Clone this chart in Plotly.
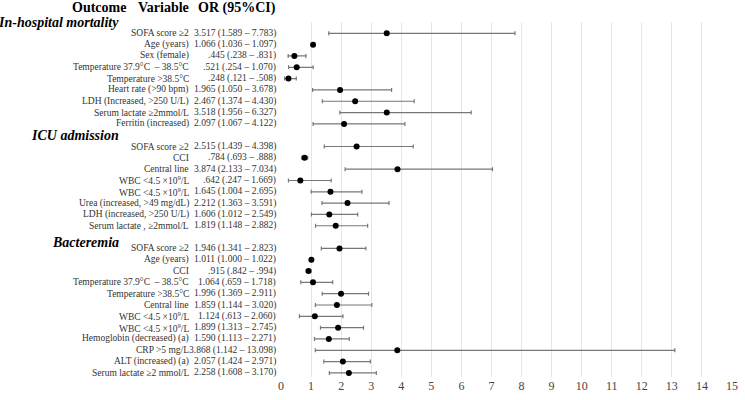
import plotly.graph_objects as go

# outcome groups
groups = ["In-hospital mortality", "ICU admission", "Bacteremia"]

mort_vars = ["SOFA score ≥2", "Age (years)", "Sex (female)",
             "Temperature 37.9°C  – 38.5°C", "Temperature &gt;38.5°C",
             "Heart rate (&gt;90 bpm)", "LDH (Increased, &gt;250 U/L)",
             "Serum lactate ≥2mmol/L", "Ferritin (increased)"]
mort_or = [3.517, 1.066, .445, .521, .248, 1.965, 2.467, 3.518, 2.097]
mort_lo = [1.589, 1.036, .238, .254, .121, 1.050, 1.374, 1.956, 1.067]
mort_hi = [7.783, 1.097, .831, 1.070, .508, 3.678, 4.430, 6.327, 4.122]

icu_vars = ["SOFA score ≥2", "CCI", "Central line",
            "WBC &lt;4.5 ×10<sup>9</sup>/L", "WBC &lt;4.5 ×10<sup>9</sup>/L",
            "Urea (increased, &gt;49 mg/dL)", "LDH (increased, &gt;250 U/L)",
            "Serum lactate , ≥2mmol/L"]
icu_or = [2.515, .784, 3.874, .642, 1.645, 2.212, 1.606, 1.819]
icu_lo = [1.439, .693, 2.133, .247, 1.004, 1.363, 1.012, 1.148]
icu_hi = [4.398, .888, 7.034, 1.669, 2.695, 3.591, 2.549, 2.882]

bact_vars = ["SOFA score ≥2", "Age (years)", "CCI",
             "Temperature 37.9°C  – 38.5°C", "Temperature &gt;38.5°C",
             "Central line", "WBC &lt;4.5 ×10<sup>9</sup>/L",
             "WBC &lt;4.5 ×10<sup>9</sup>/L", "Hemoglobin (decreased) (a)",
             "CRP &gt;5 mg/L", "ALT (increased) (a)", "Serum lactate ≥2 mmol/L"]
bact_or = [1.946, 1.011, .915, 1.064, 1.996, 1.859, 1.124, 1.899, 1.590, 3.868, 2.057, 2.258]
bact_lo = [1.341, 1.000, .842, .659, 1.369, 1.144, .613, 1.313, 1.113, 1.142, 1.424, 1.608]
bact_hi = [2.823, 1.022, .994, 1.718, 2.911, 3.020, 2.060, 2.745, 2.271, 13.098, 2.971, 3.170]

x_ticks = list(range(0, 16))

FONT = "Liberation Serif"
NROWS = 31.36


def fmt(v):
    s = f"{v:.3f}"
    if s.startswith("0."):
        s = s[1:]
    return s


def py(r):
    # row index -> paper y
    return 1 - r / NROWS


sections = [(mort_vars, mort_or, mort_lo, mort_hi),
            (icu_vars, icu_or, icu_lo, icu_hi),
            (bact_vars, bact_or, bact_lo, bact_hi)]

ys, xs, lo_err, hi_err = [], [], [], []
annos = []
row = 0
for gi, (vars_, ors, los, his) in enumerate(sections):
    hr = row + (0.5 if gi == 2 else 0)
    annos.append(dict(x=-0.354, y=py(hr), xref="paper", yref="paper", text="<b><i>" + groups[gi] + "</i></b>",
                      xanchor="right", yanchor="middle", showarrow=False,
                      font=dict(family=FONT, size=14, color="black")))
    row += 1
    for v, o, l, h in zip(vars_, ors, los, his):
        ys.append(-row)
        xs.append(o)
        lo_err.append(o - l)
        hi_err.append(h - o)
        annos.append(dict(x=-0.199, y=py(row), xref="paper", yref="paper", text=v, xanchor="right",
                          yanchor="middle", showarrow=False, font=dict(family=FONT, size=9.5, color="#333")))
        annos.append(dict(x=-0.007, y=py(row), xref="paper", yref="paper",
                          text=f"{fmt(o)} ({fmt(l)} – {fmt(h)})", xanchor="right", yanchor="middle",
                          showarrow=False, font=dict(family=FONT, size=9.5, color="#333")))
        row += 1

for txt, xx in [("Outcome", -0.34), ("Variable", -0.199), ("OR (95%CI)", -0.007)]:
    annos.append(dict(x=xx, y=py(-1.27), xref="paper", yref="paper", text="<b>" + txt + "</b>",
                      xanchor="right", yanchor="middle", showarrow=False,
                      font=dict(family=FONT, size=14, color="black")))

fig = go.Figure()
fig.add_trace(go.Scatter(
    x=xs, y=ys, mode="markers",
    marker=dict(color="black", size=6),
    error_x=dict(type="data", symmetric=False, array=hi_err, arrayminus=lo_err,
                 color="#777", thickness=1.2, width=2),
    showlegend=False, cliponaxis=False))

fig.update_layout(
    width=745, height=400,
    margin=dict(l=281, r=7, t=22, b=13),
    paper_bgcolor="white", plot_bgcolor="white",
    annotations=annos,
    font=dict(family=FONT),
    xaxis=dict(range=[0, 15], tickvals=x_ticks, showgrid=True, gridcolor="#e6e6e6",
               zeroline=False, showline=False, ticks="",
               tickfont=dict(family=FONT, size=12, color="#444")),
    yaxis=dict(range=[-NROWS, 0], visible=False, showgrid=False, zeroline=False),
)

fig.write_html("out.html", config={"displayModeBar": False},
               post_script="document.body.style.margin='0';")
